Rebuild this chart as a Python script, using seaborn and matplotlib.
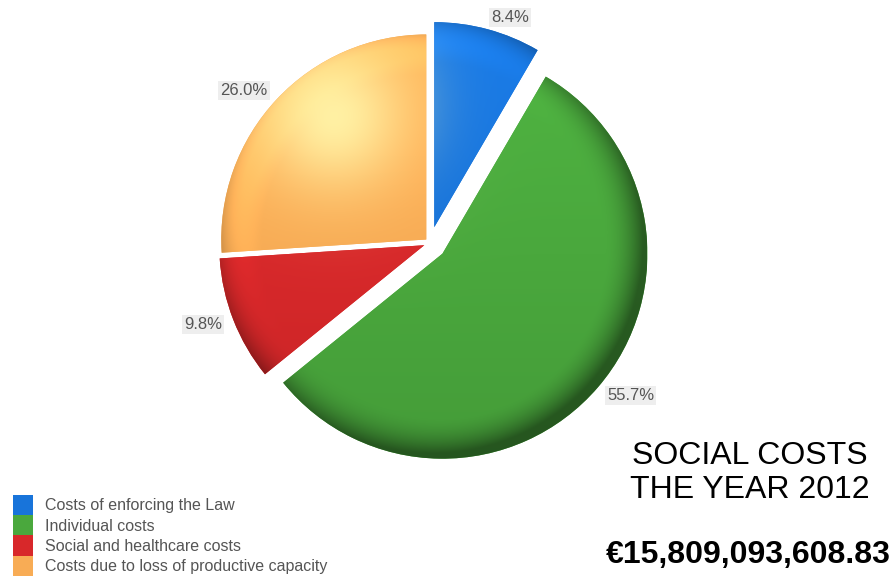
import numpy as np
import matplotlib
matplotlib.use("Agg")
import matplotlib.pyplot as plt
import matplotlib.colors as mcolors
import seaborn as sns

# Social cost breakdown, year 2012 (share of total, %)
categories = [
    "Costs of enforcing the Law",
    "Individual costs",
    "Social and healthcare costs",
    "Costs due to loss of productive capacity",
]
shares = [8.4, 55.7, 9.8, 26.0]
slice_colors = ["#1874da", "#4aa83d", "#d8282a", "#f8ac55"]
explode = [0.08, 0.08, 0.03, 0.025]
title_lines = ["SOCIAL COSTS", "THE YEAR 2012"]
total_cost = "€15,809,093,608.83"

sns.set_theme(style="white")
plt.rcParams["font.family"] = ["Liberation Sans", "DejaVu Sans"]

W, H = 891, 581
fig = plt.figure(figsize=(W / 100, H / 100), dpi=100)
ax = fig.add_axes([0, 0, 1, 1])

cx, cy, R = 430, H - 243, 205
palette = sns.color_palette(slice_colors)
pct_labels = [f"{s:.1f}%" for s in shares]

wedges, pct_texts = ax.pie(
    shares,
    labels=pct_labels,
    colors=palette,
    explode=[e * R for e in explode],
    startangle=90,
    counterclock=False,
    radius=R,
    center=(cx, cy),
    labeldistance=1.06,
    wedgeprops=dict(linewidth=0),
    textprops=dict(fontsize=12, color="#555555"),
)

# Soft 3D look: flat top with a bevelled rim lit from the upper left,
# plus a broad warm highlight.
n = 320
grid = np.linspace(-1, 1, n)
X, Y = np.meshgrid(grid, grid)
r = np.hypot(X, Y)
rc = np.clip(r, 0, 1)
ux, uy = X / np.maximum(r, 1e-6), Y / np.maximum(r, 1e-6)
r0 = 0.80
t = np.clip((rc - r0) / (1 - r0), 0, 1)
phi = t ** 1.4 * np.radians(75)
nx, ny, nz = np.sin(phi) * ux, np.sin(phi) * uy, np.cos(phi)
L = np.array([-0.45, 0.55, 1.0])
L = L / np.linalg.norm(L)
diff = np.clip(nx * L[0] + ny * L[1] + nz * L[2], 0, None) / L[2]
shade = 0.55 + 0.45 * np.clip(diff, 0, 1.15)
tone = 1 + 0.07 * Y
glow = 0.85 * np.exp(-((X + 0.45) ** 2 + (Y - 0.6) ** 2) / (2 * 0.25 ** 2))
glow_col = np.array(mcolors.to_rgb("#fffbb0"))

for w, col in zip(wedges, palette):
    wx, wy = w.center
    base = np.array(mcolors.to_rgb(col))
    rgb = base[None, None, :] * (shade * tone)[..., None]
    rgb = rgb * (1 - glow[..., None]) + glow_col * glow[..., None]
    rgb = np.clip(rgb, 0, 1)
    im = ax.imshow(rgb, extent=(wx - R, wx + R, wy - R, wy + R), origin="lower",
                   interpolation="bilinear", zorder=1.5)
    im.set_clip_path(w)

# Percentage labels sit outside the rim, aligned away from the pie centre
for t_ in pct_texts:
    x_, _ = t_.get_position()
    t_.set_horizontalalignment("left" if x_ > cx else "right")
    t_.set_zorder(5)
    t_.set_bbox(dict(boxstyle="square,pad=0.12", fc="#eeeeee", ec="none"))

ax.set_xlim(0, W)
ax.set_ylim(0, H)
ax.set_aspect("equal")
ax.axis("off")

leg = fig.legend(
    wedges, categories,
    loc="lower left", bbox_to_anchor=(13 / W, 5 / H),
    frameon=False, borderpad=0, borderaxespad=0,
    handlelength=1.25, handleheight=1.577, labelspacing=0,
    handletextpad=0.75, fontsize=11.5,
)
for txt in leg.get_texts():
    txt.set_color("#555555")

ax.text(750, H - 464, title_lines[0], ha="center", va="baseline", fontsize=23, color="black")
ax.text(750, H - 498, title_lines[1], ha="center", va="baseline", fontsize=23, color="black")
ax.text(748, H - 563, total_cost, ha="center", va="baseline", fontsize=23,
        fontweight="bold", color="black")

fig.savefig("out.png", dpi=100, facecolor="white")
